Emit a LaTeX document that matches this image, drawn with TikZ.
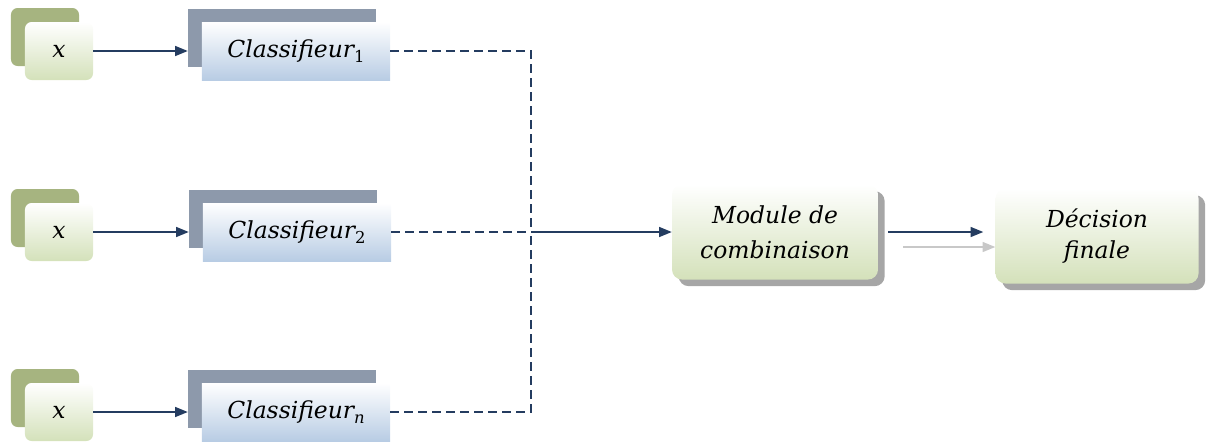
\documentclass[tikz,border=0pt]{standalone}
\usepackage{fontspec}
\newfontfamily\lblfont{DejaVu Serif}
\usetikzlibrary{arrows.meta,shadows}

\definecolor{navy}{RGB}{36,60,96}
\definecolor{leaf}{RGB}{212,225,186}
\definecolor{olivebk}{RGB}{166,180,128}
\definecolor{steel}{RGB}{141,153,171}
\definecolor{sky}{RGB}{184,204,228}
\definecolor{dimarrow}{RGB}{200,200,200}

% lowered index, a little larger than \textsubscript
\newcommand{\idx}[1]{\raisebox{-0.4ex}{\fontsize{14}{14}\selectfont #1}}

\begin{document}
\begin{tikzpicture}[%
    x=0.03cm, y=-0.03cm,        % one unit = one pixel of the sketch, y going down
    >={Triangle[length=0.38cm,width=0.3cm]}, % filled heads, as in the sketch
    ]
% -------------------------------------------------
% Box and line styles
\tikzset{
  base/.style={align=center, inner sep=0pt,
    font=\lblfont\itshape\fontsize{20}{24}\selectfont},
  inbox/.style={base, rounded corners=0.2cm, minimum width=2.04cm,
    minimum height=1.74cm, top color=white, bottom color=leaf,
    copy shadow={shadow xshift=-0.42cm, shadow yshift=0.42cm,
      fill=olivebk, draw=none}},
  clfbox/.style={base, minimum width=5.64cm, minimum height=1.74cm,
    top color=white, bottom color=sky,
    copy shadow={shadow xshift=-0.42cm, shadow yshift=0.39cm,
      fill=steel, draw=none}},
  bigbox/.style={base, rounded corners=0.3cm, minimum height=2.85cm,
    top color=white, bottom color=leaf,
    drop shadow={shadow xshift=0.2cm, shadow yshift=-0.2cm,
      fill=black!35, opacity=1}},
  % Connector line styles
  flow/.style={->, navy, line width=1.2pt},
  link/.style={navy, line width=1.3pt, dash pattern=on 0.27cm off 0.15cm},
}
\useasboundingbox (0,0) rectangle (1207,441);
% -------------------------------------------------
% Inputs and classifiers
\node [inbox] (x1) at (59,51) {x};
\node [inbox] (x2) at (59,232) {x};
\node [inbox] (xn) at (59,412) {x};
\node [clfbox] (clf1) at (296,51) {Classifieur\idx{\upshape 1}};
\node [clfbox] (clf2) at (297,232) {Classifieur\idx{\upshape 2}};
\node [clfbox] (clfn) at (296,412) {Classifieur\idx{n}};
% Combination and decision
\node [bigbox, minimum width=6.18cm] (comb) at (775,232)
  {Module de\\[0.2cm]combinaison};
\node [bigbox, minimum width=6.09cm] (dec) at (1097,236)
  {Décision\\[0.1cm]finale};
\coordinate (j) at (531,232);
% -------------------------------------------------
% Connectors
\draw [flow, shorten >=0.42cm] (x1) -- (clf1);
\draw [flow, shorten >=0.42cm] (x2) -- (clf2);
\draw [flow, shorten >=0.42cm] (xn) -- (clfn);
\draw [link] (clf1.east) -| (j);
\draw [link] (clfn.east) -| (j);
\draw [link] (clf2.east) -- (j);
\draw [flow] (j) -- (comb.west);
\draw [flow, shorten <=0.3cm, shorten >=0.36cm]
  (comb.east) -- (comb.east -| dec.west);
\draw [->, dimarrow, line width=1.2pt, shorten <=0.75cm]
  ([yshift=-0.45cm]comb.east) -- ([yshift=-0.45cm]comb.east -| dec.west);
% -------------------------------------------------
\end{tikzpicture}
\end{document}
